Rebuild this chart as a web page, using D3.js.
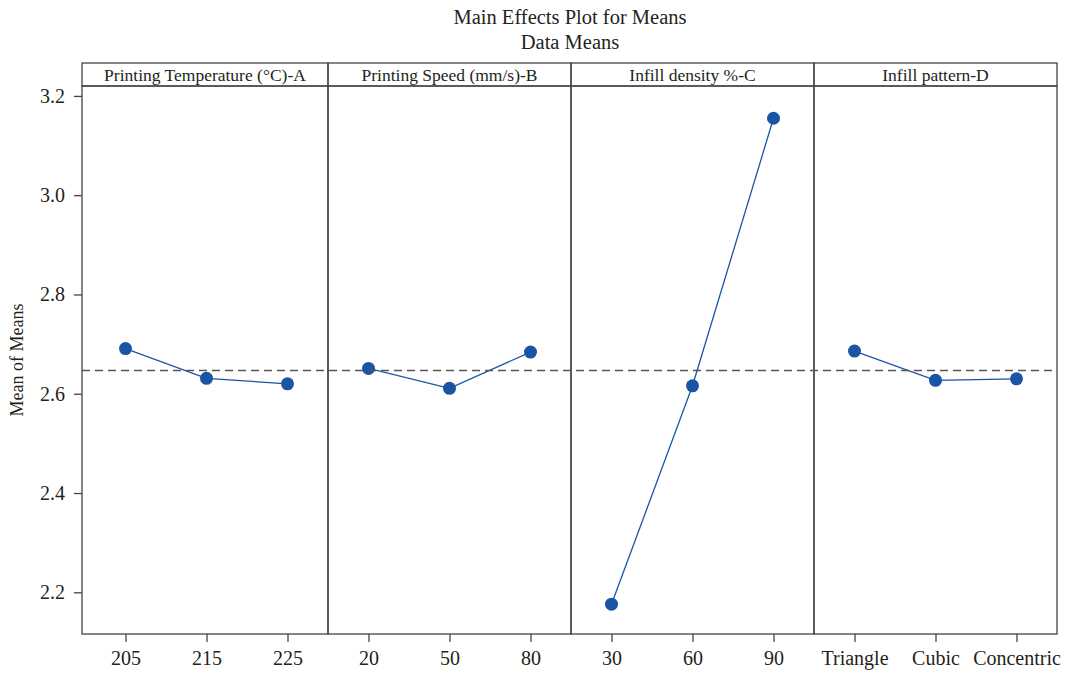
<!DOCTYPE html>
<html>
<head>
<meta charset="utf-8">
<script src="https://cdn.jsdelivr.net/npm/d3@7"></script>
<style>
  html, body { margin: 0; padding: 0; background: #fff; }
  svg text { font-family: "Liberation Serif", "DejaVu Serif", serif; fill: #231f20; }
</style>
</head>
<body>
<svg id="chart" width="1073" height="673"></svg>
<script>
// Factor names shown in the panel headers
const factors = ["Printing Temperature (\u00B0C)-A", "Printing Speed (mm/s)-B", "Infill density %-C", "Infill pattern-D"];

// Levels of each factor
const levelsA = ["205", "215", "225"];
const levelsB = ["20", "50", "80"];
const levelsC = ["30", "60", "90"];
const levelsD = ["Triangle", "Cubic", "Concentric"];

// Mean of means for each level
const meansA = [2.691, 2.631, 2.620];
const meansB = [2.651, 2.611, 2.684];
const meansC = [2.176, 2.616, 3.155];
const meansD = [2.686, 2.627, 2.630];

// Grand mean (reference line)
const grandMean = 2.647;

// Y axis ticks
const yTicks = [2.2, 2.4, 2.6, 2.8, 3.0, 3.2];

const panels = [
  { name: factors[0], levels: levelsA, means: meansA },
  { name: factors[1], levels: levelsB, means: meansB },
  { name: factors[2], levels: levelsC, means: meansC },
  { name: factors[3], levels: levelsD, means: meansD }
];

const svg = d3.select("#chart");
const plotL = 82, plotR = 1057, plotT = 86, plotB = 634, headerT = 63;
const lineCol = "#444", pointCol = "#1a55a5";
const tickFont = "20px";

const y = d3.scaleLinear().domain([2.116, 3.220]).range([plotB, plotT]);
// first panel is a little wider on its left side
const panelX = d3.scaleBand().domain(d3.range(panels.length)).range([plotL + 3, plotR]).paddingInner(0).paddingOuter(0);
const pw = panelX.bandwidth();

// Titles
svg.append("text").attr("x", 570).attr("y", 24).attr("text-anchor", "middle")
  .style("font-size", "20.5px").text("Main Effects Plot for Means");
svg.append("text").attr("x", 570).attr("y", 49).attr("text-anchor", "middle")
  .style("font-size", "20.5px").text("Data Means");

// Y axis title
svg.append("text")
  .attr("transform", `translate(23,${(plotT + plotB) / 2}) rotate(-90)`)
  .attr("text-anchor", "middle").style("font-size", "18px").text("Mean of Means");

// Y axis
const yAxis = svg.append("g").attr("transform", `translate(${plotL},0)`)
  .call(d3.axisLeft(y).tickValues(yTicks).tickFormat(d3.format(".1f")).tickSize(8).tickPadding(9));
yAxis.select(".domain").remove();
yAxis.selectAll(".tick line").attr("stroke", lineCol).attr("stroke-width", 1.3);
yAxis.selectAll(".tick text").style("font-size", tickFont).style("font-family", "'Liberation Serif', serif").attr("fill", "#231f20");

// Panels
panels.forEach((p, i) => {
  const xs = panelX(i);
  const x0 = i === 0 ? plotL : xs;
  const w = xs + pw - x0;
  const g = svg.append("g");
  const x = d3.scalePoint().domain(p.levels).range([xs, xs + pw]).padding(0.5);

  // header box
  g.append("rect").attr("x", x0).attr("y", headerT).attr("width", w).attr("height", plotT - headerT)
    .attr("fill", "none").attr("stroke", lineCol).attr("stroke-width", 1.3);
  g.append("text").attr("x", x0 + w / 2).attr("y", headerT + 17.5).attr("text-anchor", "middle")
    .style("font-size", "17.5px").text(p.name);

  // panel box
  g.append("rect").attr("x", x0).attr("y", plotT).attr("width", w).attr("height", plotB - plotT)
    .attr("fill", "none").attr("stroke", lineCol).attr("stroke-width", 1.3);

  // x axis
  const xAxis = g.append("g").attr("transform", `translate(0,${plotB})`)
    .call(d3.axisBottom(x).tickSize(8).tickPadding(9));
  xAxis.select(".domain").remove();
  xAxis.selectAll(".tick line").attr("stroke", lineCol).attr("stroke-width", 1.3);
  xAxis.selectAll(".tick text").style("font-size", tickFont).style("font-family", "'Liberation Serif', serif").attr("fill", "#231f20");

  // line and points
  const pts = p.levels.map((l, k) => [x(l), y(p.means[k])]);
  g.append("path").attr("d", d3.line()(pts)).attr("fill", "none")
    .attr("stroke", pointCol).attr("stroke-width", 1.3);
  g.selectAll("circle").data(pts).join("circle")
    .attr("cx", d => d[0]).attr("cy", d => d[1]).attr("r", 6.5).attr("fill", pointCol);
});

// Grand mean reference line
svg.append("line").attr("x1", plotL).attr("x2", plotR).attr("y1", y(grandMean)).attr("y2", y(grandMean))
  .attr("stroke", "#555").attr("stroke-width", 1.5).attr("stroke-dasharray", "8,5");
</script>
</body>
</html>
